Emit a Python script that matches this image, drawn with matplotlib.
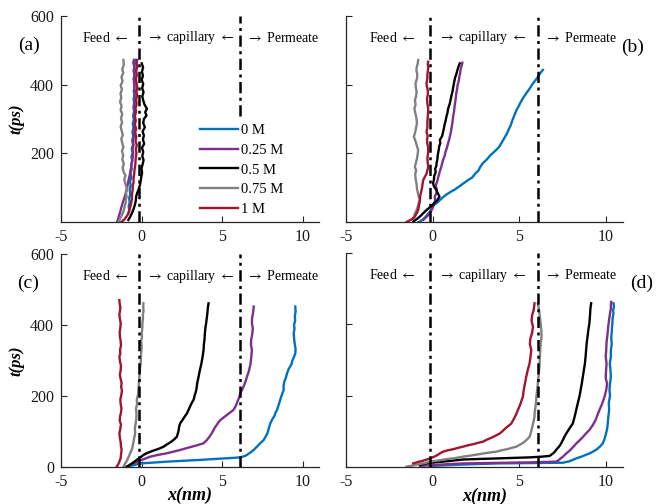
import matplotlib
matplotlib.use("Agg")
from matplotlib import pyplot as plt

plt.rcParams["font.family"] = ["Liberation Serif", "DejaVu Serif"]
plt.rcParams["mathtext.fontset"] = "stix"

CONC_LABELS = ["0 M", "0.25 M", "0.5 M", "0.75 M", "1 M"]
CONC_COLORS = ["#0072BD", "#7E2F8E", "#000000", "#808080", "#A2142F"]

# interface positions (nm)
FEED_EDGE = -0.15
PERM_EDGE = 6.1

# trajectories as (t [ps], x [nm]) pairs

# ---- panel (a) ----
a_0 = [(25, -0.82), (35, -0.76), (45, -0.8), (58, -0.74), (70, -0.77), (82, -0.7), (94, -0.74), (106, -0.68),
       (118, -0.72), (130, -0.64), (142, -0.69), (154, -0.62), (166, -0.66), (178, -0.58), (190, -0.63),
       (202, -0.56), (214, -0.61), (226, -0.53), (238, -0.58), (250, -0.52), (262, -0.57), (274, -0.5),
       (286, -0.55), (298, -0.48), (310, -0.53), (322, -0.46), (334, -0.51), (346, -0.45), (358, -0.5),
       (370, -0.44), (382, -0.49), (394, -0.43), (406, -0.48), (418, -0.42), (430, -0.47), (442, -0.41),
       (454, -0.45), (466, -0.39), (472, -0.42)]
a_025 = [(0, -1.52), (8, -1.46), (16, -1.42), (28, -1.34), (40, -1.27), (52, -1.2), (64, -1.12), (76, -1.03),
         (90, -0.95), (104, -0.88), (116, -0.84), (128, -0.78), (140, -0.72), (152, -0.68), (164, -0.63),
         (176, -0.6), (188, -0.55), (200, -0.52), (212, -0.56), (224, -0.5), (236, -0.55), (248, -0.48),
         (260, -0.45), (272, -0.5), (284, -0.42), (296, -0.46), (308, -0.4), (320, -0.47), (332, -0.42),
         (344, -0.48), (356, -0.4), (368, -0.45), (380, -0.41), (392, -0.47), (404, -0.43), (416, -0.5),
         (428, -0.44), (440, -0.5), (452, -0.45), (464, -0.52), (472, -0.48)]
a_05 = [(6, -0.82), (16, -0.7), (25, -0.61), (38, -0.5), (50, -0.42), (62, -0.36), (74, -0.34), (84, -0.28),
        (96, -0.18), (108, -0.1), (120, -0.06), (132, -0.02), (144, 0.03), (156, -0.01), (168, 0.06),
        (180, 0.12), (192, 0.04), (204, 0.1), (216, 0.02), (228, 0.16), (240, 0.08), (252, 0.14), (264, 0.06),
        (276, 0.2), (288, 0.1), (300, 0.14), (310, 0.3), (320, 0.22), (330, 0.33), (342, 0.18), (354, 0.1),
        (366, 0.04), (378, 0.12), (390, 0.03), (402, 0.1), (414, 0.0), (426, 0.08), (438, 0.02), (450, 0.09),
        (462, 0.01)]
a_075 = [(0, -1.44), (6, -1.38), (14, -1.3), (24, -1.18), (35, -1.1), (46, -1.05), (54, -1.0), (64, -0.98),
         (74, -0.93), (85, -0.97), (95, -0.9), (103, -0.95), (113, -1.02), (124, -1.08), (135, -1.0),
         (146, -1.12), (158, -1.18), (170, -1.1), (182, -1.2), (194, -1.14), (206, -1.22), (218, -1.13),
         (230, -1.2), (242, -1.26), (254, -1.17), (266, -1.24), (278, -1.3), (290, -1.21), (302, -1.28),
         (314, -1.2), (326, -1.3), (338, -1.24), (350, -1.34), (362, -1.26), (374, -1.31), (386, -1.22),
         (398, -1.3), (410, -1.18), (422, -1.25), (434, -1.14), (446, -1.2), (458, -1.1), (472, -1.13)]
a_1 = [(1, -1.24), (6, -1.1), (12, -1.0), (20, -0.88), (28, -0.8), (38, -0.74), (48, -0.68), (58, -0.64),
       (68, -0.6), (80, -0.6), (92, -0.56), (104, -0.55), (116, -0.5), (128, -0.5), (140, -0.46), (152, -0.44),
       (164, -0.4), (176, -0.38), (188, -0.36), (200, -0.32), (212, -0.36), (224, -0.3), (236, -0.38),
       (248, -0.33), (260, -0.4), (272, -0.34), (284, -0.42), (296, -0.36), (308, -0.43), (320, -0.35),
       (332, -0.38), (344, -0.31), (356, -0.34), (368, -0.28), (380, -0.32), (392, -0.27), (404, -0.31),
       (416, -0.36), (428, -0.3), (440, -0.34), (452, -0.27), (462, -0.31), (472, -0.28)]

# ---- panel (b) ----
b_0 = [(0, -0.8), (5, -0.62), (10, -0.5), (16, -0.38), (22, -0.3), (28, -0.18), (35, -0.1), (42, 0.0),
       (50, 0.1), (58, 0.3), (65, 0.45), (72, 0.6), (80, 0.8), (88, 1.05), (95, 1.3), (104, 1.55), (113, 1.8),
       (122, 2.05), (130, 2.3), (140, 2.45), (150, 2.65), (160, 2.75), (171, 2.9), (183, 3.15), (195, 3.35),
       (207, 3.62), (219, 3.85), (232, 4.0), (245, 4.15), (258, 4.3), (270, 4.4), (282, 4.52), (295, 4.6),
       (310, 4.72), (326, 4.85), (338, 4.98), (350, 5.1), (363, 5.25), (376, 5.43), (388, 5.6), (400, 5.75),
       (410, 5.9), (420, 6.05), (432, 6.2), (443, 6.37)]
b_025 = [(6, -0.54), (15, -0.35), (25, -0.16), (38, -0.02), (50, 0.05), (62, 0.15), (74, 0.13), (84, 0.22),
         (95, 0.25), (104, 0.18), (113, 0.23), (124, 0.3), (135, 0.35), (148, 0.42), (160, 0.5), (170, 0.55),
         (181, 0.61), (193, 0.7), (205, 0.75), (218, 0.84), (230, 0.9), (240, 0.96), (249, 1.0), (262, 1.06),
         (275, 1.1), (290, 1.15), (307, 1.19), (322, 1.24), (340, 1.28), (357, 1.33), (375, 1.37),
         (388, 1.42), (400, 1.45), (412, 1.52), (425, 1.55), (435, 1.6), (445, 1.62), (455, 1.68), (464, 1.72)]
b_05 = [(2, -1.1), (9, -0.9), (16, -0.73), (25, -0.55), (35, -0.35), (45, -0.1), (55, 0.1), (64, 0.28),
        (74, 0.4), (84, 0.3), (95, 0.2), (104, 0.08), (113, 0.03), (124, 0.08), (135, 0.1), (145, 0.18),
        (155, 0.15), (163, 0.22), (171, 0.23), (183, 0.28), (195, 0.3), (208, 0.35), (220, 0.38), (230, 0.45),
        (239, 0.42), (250, 0.55), (260, 0.6), (272, 0.65), (285, 0.7), (296, 0.76), (307, 0.8), (318, 0.86),
        (330, 0.9), (338, 0.95), (346, 1.0), (358, 1.05), (370, 1.1), (382, 1.16), (395, 1.2), (408, 1.25),
        (420, 1.3), (432, 1.38), (445, 1.45), (453, 1.5), (462, 1.57)]
b_075 = [(10, -1.1), (18, -1.05), (25, -1.02), (35, -0.92), (45, -0.85), (55, -0.8), (64, -0.73), (74, -0.8),
         (85, -0.85), (97, -0.9), (113, -0.93), (126, -0.98), (140, -1.0), (150, -0.95), (161, -1.02),
         (173, -0.96), (185, -0.9), (197, -0.86), (210, -0.83), (220, -0.9), (230, -0.95), (240, -1.02),
         (249, -1.08), (262, -1.0), (275, -0.95), (290, -0.9), (307, -0.95), (318, -1.0), (330, -1.05),
         (342, -0.98), (355, -1.02), (367, -0.95), (380, -0.92), (392, -0.97), (405, -0.98), (418, -0.9),
         (430, -0.88), (440, -0.93), (450, -0.92), (461, -0.86), (472, -0.83)]
b_1 = [(0, -1.5), (4, -1.35), (8, -1.2), (16, -1.02), (25, -0.92), (35, -0.83), (43, -0.8), (50, -0.78),
       (57, -0.75), (64, -0.73), (72, -0.72), (80, -0.7), (87, -0.66), (93, -0.64), (102, -0.6), (110, -0.58),
       (116, -0.56), (122, -0.54), (131, -0.45), (140, -0.35), (150, -0.3), (161, -0.25), (173, -0.28),
       (185, -0.3), (200, -0.26), (216, -0.25), (228, -0.3), (240, -0.32), (251, -0.28), (262, -0.35),
       (276, -0.3), (290, -0.3), (310, -0.27), (330, -0.25), (345, -0.3), (360, -0.32), (372, -0.27),
       (385, -0.28), (395, -0.33), (404, -0.35), (418, -0.3), (430, -0.3), (440, -0.27), (450, -0.25),
       (460, -0.28), (467, -0.25)]

# ---- panel (c) ----
c_0 = [(1, -0.92), (5, -0.5), (10, -0.09), (15, 1.56), (20, 3.63), (27, 6.12), (31, 6.4), (34, 6.53),
       (41, 6.75), (48, 6.95), (55, 7.1), (62, 7.25), (69, 7.4), (76, 7.57), (85, 7.68), (95, 7.8), (108, 7.88),
       (123, 7.98), (134, 8.1), (145, 8.25), (153, 8.3), (161, 8.4), (175, 8.5), (190, 8.6), (204, 8.7),
       (217, 8.81), (228, 8.8), (240, 8.85), (252, 8.95), (264, 9.02), (276, 9.12), (290, 9.3), (300, 9.35),
       (310, 9.45), (320, 9.53), (332, 9.55), (345, 9.5), (360, 9.46), (377, 9.43), (390, 9.48), (400, 9.45),
       (412, 9.52), (425, 9.5), (438, 9.55), (452, 9.53)]
c_025 = [(10, -0.51), (15, -0.25), (20, 0.0), (25, 0.3), (29, 0.53), (34, 1.0), (38, 1.5), (43, 1.95),
         (48, 2.39), (52, 2.7), (57, 3.1), (62, 3.5), (67, 3.84), (76, 4.05), (85, 4.2), (95, 4.35),
         (104, 4.46), (112, 4.55), (118, 4.65), (125, 4.75), (132, 4.88), (140, 5.1), (147, 5.3), (154, 5.5),
         (161, 5.7), (173, 5.85), (185, 5.95), (196, 6.05), (208, 6.12), (219, 6.25), (230, 6.35), (242, 6.45),
         (254, 6.53), (270, 6.65), (290, 6.75), (310, 6.8), (330, 6.84), (345, 6.78), (360, 6.8), (375, 6.86),
         (390, 6.9), (405, 6.84), (420, 6.85), (436, 6.92), (452, 6.95)]
c_05 = [(1, -0.92), (5, -0.78), (10, -0.6), (15, -0.45), (20, -0.3), (25, -0.15), (30, 0.0), (35, 0.15),
        (39, 0.32), (44, 0.6), (48, 0.85), (52, 1.1), (57, 1.35), (63, 1.55), (70, 1.8), (77, 2.0), (85, 2.18),
        (95, 2.25), (104, 2.3), (112, 2.32), (117, 2.35), (123, 2.39), (130, 2.5), (137, 2.6), (144, 2.7),
        (151, 2.81), (160, 2.9), (170, 3.0), (180, 3.1), (189, 3.22), (200, 3.28), (210, 3.35), (220, 3.4),
        (237, 3.45), (254, 3.53), (270, 3.6), (290, 3.7), (310, 3.78), (330, 3.84), (345, 3.86), (360, 3.9),
        (375, 3.92), (390, 3.95), (405, 4.0), (423, 4.05), (435, 4.08), (445, 4.1), (453, 4.12), (461, 4.15)]
c_075 = [(0, -1.13), (8, -1.05), (15, -0.95), (27, -0.82), (39, -0.71), (50, -0.6), (60, -0.55), (72, -0.5),
         (85, -0.45), (95, -0.4), (108, -0.42), (120, -0.38), (135, -0.33), (150, -0.32), (165, -0.35),
         (178, -0.28), (189, -0.3), (205, -0.22), (220, -0.2), (235, -0.17), (250, -0.15), (266, -0.12),
         (282, -0.09), (296, -0.05), (310, -0.05), (325, -0.02), (340, 0.0), (355, -0.03), (366, 0.02),
         (377, 0.01), (392, 0.04), (405, 0.05), (418, 0.08), (430, 0.08), (440, 0.12), (450, 0.1), (461, 0.11)]
c_1 = [(1, -1.54), (8, -1.45), (15, -1.38), (25, -1.3), (35, -1.28), (48, -1.24), (58, -1.28), (70, -1.3),
       (82, -1.35), (95, -1.38), (108, -1.32), (120, -1.28), (131, -1.36), (142, -1.34), (153, -1.28),
       (165, -1.25), (178, -1.3), (190, -1.32), (203, -1.26), (215, -1.22), (226, -1.27), (236, -1.24),
       (248, -1.3), (260, -1.35), (272, -1.3), (285, -1.28), (297, -1.34), (310, -1.38), (320, -1.32),
       (330, -1.34), (342, -1.28), (355, -1.3), (368, -1.35), (380, -1.36), (392, -1.32), (405, -1.3),
       (418, -1.35), (430, -1.38), (440, -1.34), (450, -1.32), (460, -1.36), (470, -1.38)]

# ---- panel (d) ----
d_0 = [(3, -0.16), (7, 1.8), (10, 3.69), (12, 7.53), (16, 7.9), (20, 8.1), (25, 8.35), (29, 8.6), (34, 8.85),
       (38, 9.06), (44, 9.3), (50, 9.5), (58, 9.68), (66, 9.83), (78, 9.93), (90, 10.0), (106, 10.08),
       (122, 10.12), (140, 10.15), (160, 10.2), (180, 10.18), (200, 10.25), (216, 10.22), (235, 10.25),
       (252, 10.3), (270, 10.28), (290, 10.24), (310, 10.3), (328, 10.3), (345, 10.35), (362, 10.32),
       (380, 10.35), (400, 10.38), (421, 10.41), (430, 10.45), (440, 10.43), (450, 10.48), (459, 10.45)]
d_025 = [(3, -0.73), (7, 0.5), (10, 1.76), (13, 5.61), (15, 7.14), (18, 7.25), (22, 7.35), (26, 7.45),
         (29, 7.53), (37, 7.7), (45, 7.9), (55, 8.1), (66, 8.3), (75, 8.5), (85, 8.7), (95, 8.88), (104, 9.06),
         (117, 9.25), (130, 9.4), (145, 9.52), (160, 9.64), (172, 9.75), (185, 9.85), (200, 9.95),
         (216, 10.03), (233, 10.08), (250, 10.0), (270, 10.02), (290, 10.05), (310, 10.0), (328, 10.03),
         (350, 10.05), (370, 10.1), (395, 10.15), (421, 10.22), (433, 10.26), (445, 10.3), (455, 10.3),
         (463, 10.32)]
d_05 = [(6, -0.73), (9, -0.45), (12, -0.16), (16, 0.8), (21, 1.76), (24, 3.69), (27, 5.61), (29, 6.3),
        (31, 6.76), (36, 6.9), (40, 7.0), (44, 7.08), (48, 7.14), (54, 7.25), (60, 7.35), (68, 7.45),
        (76, 7.53), (88, 7.65), (100, 7.8), (111, 7.95), (122, 8.1), (136, 8.18), (150, 8.25), (165, 8.32),
        (179, 8.39), (197, 8.48), (215, 8.55), (234, 8.62), (253, 8.68), (272, 8.74), (290, 8.8), (310, 8.84),
        (328, 8.87), (346, 8.9), (365, 8.95), (385, 9.0), (403, 9.06), (417, 9.08), (430, 9.1), (445, 9.12),
        (459, 9.16)]
d_075 = [(1, -1.5), (4, -1.15), (8, -0.8), (11, -0.45), (15, -0.16), (18, 0.3), (22, 0.8), (25, 1.3),
         (29, 1.76), (32, 2.2), (36, 2.7), (40, 3.2), (43, 3.69), (47, 4.0), (50, 4.3), (54, 4.6), (57, 4.84),
         (64, 5.1), (70, 5.3), (77, 5.45), (85, 5.61), (97, 5.68), (110, 5.75), (125, 5.82), (141, 5.89),
         (155, 5.9), (170, 5.95), (185, 5.98), (200, 6.0), (218, 6.05), (235, 6.08), (252, 6.12), (270, 6.15),
         (290, 6.18), (310, 6.2), (330, 6.22), (350, 6.25), (367, 6.3), (384, 6.28), (400, 6.25), (420, 6.2),
         (440, 6.15), (459, 6.08)]
d_1 = [(10, -1.12), (14, -0.85), (17, -0.6), (20, -0.4), (24, -0.16), (29, 0.1), (34, 0.3), (39, 0.45),
       (43, 0.61), (47, 0.9), (50, 1.2), (54, 1.5), (57, 1.76), (61, 2.05), (64, 2.35), (68, 2.65), (71, 2.91),
       (77, 3.15), (82, 3.4), (88, 3.65), (94, 3.88), (101, 4.05), (108, 4.2), (115, 4.38), (122, 4.55),
       (131, 4.65), (140, 4.75), (150, 4.85), (160, 4.93), (170, 5.02), (180, 5.1), (188, 5.15), (197, 5.22),
       (211, 5.25), (225, 5.3), (240, 5.36), (253, 5.41), (272, 5.5), (290, 5.6), (310, 5.66), (328, 5.7),
       (345, 5.62), (360, 5.65), (376, 5.75), (393, 5.8), (410, 5.72), (425, 5.75), (442, 5.85), (459, 5.89)]

panels = {
    "a": [a_0, a_025, a_05, a_075, a_1],
    "b": [b_0, b_025, b_05, b_075, b_1],
    "c": [c_0, c_025, c_05, c_075, c_1],
    "d": [d_0, d_025, d_05, d_075, d_1],
}

W, H = 659, 504


def px_rect(left, right, top, bottom):
    """Axes rectangle from pixel edges (origin at top left)."""
    return [left / W, (H - bottom) / H, (right - left) / W, (bottom - top) / H]


rects = {
    "a": px_rect(61, 319, 16, 222),
    "b": px_rect(346, 623, 16, 222),
    "c": px_rect(61, 319, 254, 467),
    "d": px_rect(346, 623, 253, 467),
}
# panel tag positions in data coords
tag_pos = {"a": (-7.0, 515), "b": (11.55, 510), "c": (-7.05, 518), "d": (12.1, 516)}

dash_dot = (0, (4.5, 1.8, 1.2, 1.8))
axis_col = "0.15"

fig = plt.figure(figsize=(W / 100, H / 100), dpi=100)

for key, series in panels.items():
    ax = fig.add_axes(rects[key])
    for pts, lab, col in zip(series, CONC_LABELS, CONC_COLORS):
        t, x = zip(*pts)
        ax.plot(x, t, color=col, lw=1.7, label=lab)

    ax.axvline(FEED_EDGE, color="k", lw=1.8, ls=dash_dot, zorder=4)
    if key == "a":
        ax.vlines(PERM_EDGE, 310, 600, color="k", lw=1.8, ls=dash_dot, zorder=4)
    else:
        ax.axvline(PERM_EDGE, color="k", lw=1.8, ls=dash_dot, zorder=4)

    ax.set_xlim(-5, 11)
    ax.set_ylim(0, 600)
    ax.set_xticks([-5, 0, 5, 10])
    ax.set_xticklabels(["-5", "0", "5", "10"])
    if key == "a":
        ax.set_yticks([200, 400, 600])
    else:
        ax.set_yticks([0, 200, 400, 600])
    if key in ("b", "d"):
        ax.set_yticklabels([])

    for side in ("top", "right"):
        ax.spines[side].set_visible(False)
    for side in ("left", "bottom"):
        ax.spines[side].set_color(axis_col)
        ax.spines[side].set_linewidth(0.9)
    ax.tick_params(direction="in", length=4, width=0.8, color=axis_col,
                   labelsize=11.5, pad=5, labelcolor="0.1")

    # region labels
    ax.text(-3.7, 537, r"Feed $\leftarrow$", fontsize=10, va="center", ha="left")
    ax.text(0.3, 537, r"$\rightarrow$ capillary $\leftarrow$", fontsize=10, va="center", ha="left")
    ax.text(6.45, 537, r"$\rightarrow$ Permeate", fontsize=10, va="center", ha="left", clip_on=False)

    ax.text(*tag_pos[key], f"({key})", fontsize=14, ha="center", va="center", clip_on=False)

    if key in ("a", "c"):
        ax.text(-0.174, 0.5, "t(ps)", transform=ax.transAxes, rotation=90, fontsize=12,
                fontweight="bold", fontstyle="italic", ha="center", va="center")
    if key in ("c", "d"):
        ax.text(0.5, -0.135, "x(nm)", transform=ax.transAxes, fontsize=13,
                fontweight="bold", fontstyle="italic", ha="center", va="center")

    if key == "a":
        ax.legend(loc="upper left", bbox_to_anchor=(0.516, 0.505), frameon=False, fontsize=10.5,
                  handlelength=2.6, handletextpad=0.2, labelspacing=0.45, borderpad=0.4,
                  borderaxespad=0)

fig.savefig("out.png", dpi=100)
